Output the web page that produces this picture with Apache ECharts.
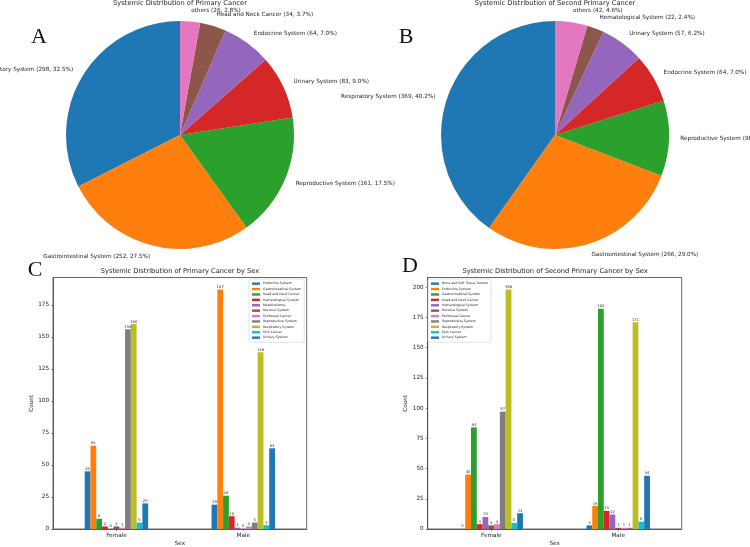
<!DOCTYPE html>
<html>
<head>
<meta charset="utf-8">
<script src="https://cdn.jsdelivr.net/npm/echarts@6/dist/echarts.min.js"></script>
<style>
html,body{margin:0;padding:0;background:#fff;}
#chart{width:750px;height:547px;}
</style>
</head>
<body>
<div id="chart"></div>
<script>
// ---------- DATA ----------
const pieANames = ['Respiratory System','Gastrointestinal System','Reproductive System','Urinary System','Endocrine System','Head and Neck Cancer','others'];
const pieAValues = [298, 252, 161, 83, 64, 34, 26];

const pieBNames = ['Respiratory System','Gastrointestinal System','Reproductive System','Endocrine System','Urinary System','Hematological System','others'];
const pieBValues = [369, 266, 98, 64, 57, 22, 42];

const sexCategories = ['Female', 'Male'];

const cNames = ['Endocrine System','Gastrointestinal System','Head and Neck Cancer','Hematological System','Mesothelioma','Nervous System','Peritoneal Cancer','Reproductive System','Respiratory System','Skin Cancer','Urinary System'];
const cFemale = [45, 65, 8, 2, 0, 2, 1, 156, 160, 5, 20];
const cMale   = [19, 187, 26, 10, 1, 0, 2, 5, 138, 3, 63];
const cTicks = [0, 25, 50, 75, 100, 125, 150, 175];

const dNames = ['Bone and Soft Tissue Tumors','Endocrine System','Gastrointestinal System','Head and Neck Cancer','Hematological System','Nervous System','Peritoneal Cancer','Reproductive System','Respiratory System','Skin Cancer','Urinary System'];
const dFemale = [0, 45, 84, 4, 10, 3, 4, 97, 198, 5, 13];
const dMale   = [3, 19, 182, 15, 12, 1, 1, 1, 171, 6, 44];
const dTicks = [0, 25, 50, 75, 100, 125, 150, 175, 200];

// ---------- STYLE ----------
const tab10 = ['#1f77b4','#ff7f0e','#2ca02c','#d62728','#9467bd','#8c564b','#e377c2','#7f7f7f','#bcbd22','#17becf'];
const FONT = 'DejaVu Sans';
const TXT = '#222';
const AX = '#444';

function pieSeries(names, values, center, radius) {
  const total = values.reduce((a, b) => a + b, 0);
  return {
    type: 'pie',
    center: center,
    radius: radius,
    startAngle: 90,
    clockwise: false,
    avoidLabelOverlap: false,
    silent: true,
    itemStyle: { borderWidth: 0 },
    emphasis: { disabled: true },
    label: {
      show: true,
      position: 'outside',
      alignTo: 'none',
      distanceToLabelLine: 0,
      fontFamily: FONT,
      fontSize: 5.7,
      color: TXT,
      formatter: p => p.name + ' (' + p.value + ', ' + (p.value / total * 100).toFixed(1) + '%)'
    },
    labelLine: { show: false, length: radius * 0.1, length2: 0 },
    labelLayout: { hideOverlap: false },
    data: names.map((n, i) => ({ name: n, value: values[i], itemStyle: { color: tab10[i % 10] } }))
  };
}

function barSeries(names, female, male, gridIdx) {
  return names.map((n, i) => ({
    type: 'bar',
    name: n,
    xAxisIndex: gridIdx,
    yAxisIndex: gridIdx,
    barWidth: (50 / names.length) + '%',
    barGap: '0%',
    silent: true,
    itemStyle: { color: tab10[i % 10] },
    label: { show: true, position: 'top', distance: 0.5, fontFamily: FONT, fontSize: 3.8, color: '#333' },
    data: [female[i], male[i]]
  }));
}

function legendFor(names, left, top) {
  return {
    orient: 'vertical',
    left: left, top: top,
    padding: [3, 3, 3, 3],
    itemGap: 2.1,
    itemWidth: 8,
    itemHeight: 2.4,
    icon: 'rect',
    selectedMode: false,
    borderColor: '#ccc',
    borderWidth: 0.6,
    borderRadius: 1.5,
    backgroundColor: 'rgba(255,255,255,0.8)',
    textStyle: { fontFamily: FONT, fontSize: 3.2, lineHeight: 3.3, color: TXT, padding: [0, 0, 0, -2] },
    data: names.map((n, i) => ({ name: n, itemStyle: { color: tab10[i % 10] } }))
  };
}

function xAx(gridIdx) {
  return {
    type: 'category', gridIndex: gridIdx, data: sexCategories,
    name: 'Sex', nameLocation: 'middle', nameGap: 12,
    nameTextStyle: { fontFamily: FONT, fontSize: 5.7, color: TXT },
    axisLine: { show: true, lineStyle: { color: AX, width: 0.8 } },
    axisTick: { show: true, alignWithLabel: true, length: 2, lineStyle: { color: AX, width: 0.6 } },
    axisLabel: { fontFamily: FONT, fontSize: 5.7, color: TXT, margin: 4 },
    splitLine: { show: false }
  };
}
function yAx(gridIdx, max, ticks) {
  return {
    type: 'value', gridIndex: gridIdx, min: 0, max: max, interval: 25,
    name: 'Count', nameLocation: 'middle', nameGap: 17, nameRotate: 90,
    nameTextStyle: { fontFamily: FONT, fontSize: 5.7, color: TXT },
    axisLine: { show: true, lineStyle: { color: AX, width: 0.8 } },
    axisTick: { show: true, length: 2, lineStyle: { color: AX, width: 0.6 }, customValues: ticks },
    axisLabel: { fontFamily: FONT, fontSize: 5.7, color: TXT, margin: 4, customValues: ticks },
    splitLine: { show: false }
  };
}

const cMax = Math.max(...cFemale, ...cMale) * 1.05;
const dMax = Math.max(...dFemale, ...dMale) * 1.05;

const chart = echarts.init(document.getElementById('chart'), null, { renderer: 'canvas' });

const titleStyle = { fontFamily: FONT, fontSize: 6.7, fontWeight: 'normal', color: TXT };
const letterStyle = (t, x, y) => ({
  type: 'text', x: x, y: y, silent: true,
  style: { text: t, fontFamily: 'Liberation Serif', fontSize: 22, fill: '#111', textAlign: 'center', textVerticalAlign: 'middle' }
});

chart.setOption({
  animation: false,
  backgroundColor: '#fff',
  title: [
    { text: 'Systemic Distribution of Primary Cancer', left: 180, top: 0, textAlign: 'center', padding: 0, textStyle: titleStyle },
    { text: 'Systemic Distribution of Second Primary Cancer', left: 555, top: 0, textAlign: 'center', padding: 0, textStyle: titleStyle },
    { text: 'Systemic Distribution of Primary Cancer by Sex', left: 180, top: 268, textAlign: 'center', padding: 0, textStyle: titleStyle },
    { text: 'Systemic Distribution of Second Primary Cancer by Sex', left: 555, top: 268, textAlign: 'center', padding: 0, textStyle: titleStyle }
  ],
  graphic: [
    letterStyle('A', 39, 37),
    letterStyle('B', 406, 37),
    letterStyle('C', 35, 270),
    letterStyle('D', 410, 266)
  ],
  legend: [legendFor(cNames, 249, 279), legendFor(dNames, 428, 279)],
  grid: [
    { left: 53, top: 277.5, width: 253.7, height: 251.5, show: true, borderColor: AX, borderWidth: 0.8, backgroundColor: 'transparent', outerBoundsMode: 'none', containLabel: false },
    { left: 427.7, top: 277.5, width: 254, height: 251.5, show: true, borderColor: AX, borderWidth: 0.8, backgroundColor: 'transparent', outerBoundsMode: 'none', containLabel: false }
  ],
  xAxis: [xAx(0), xAx(1)],
  yAxis: [yAx(0, cMax, cTicks), yAx(1, dMax, dTicks)],
  series: [
    ...barSeries(cNames, cFemale, cMale, 0),
    ...barSeries(dNames, dFemale, dMale, 1),
    pieSeries(pieANames, pieAValues, [180, 135], 114),
    pieSeries(pieBNames, pieBValues, [555, 135], 114)
  ]
});
</script>
</body>
</html>
